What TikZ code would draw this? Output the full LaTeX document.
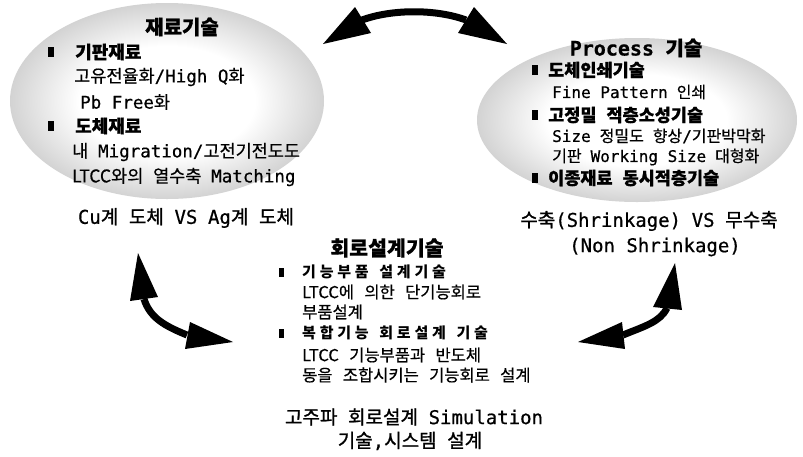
\documentclass[tikz,border=0pt]{standalone}
\usepackage{fontspec}
\setmainfont{Noto Sans CJK KR}
\newfontfamily\kr{Noto Sans CJK KR}[WordSpace=2.5, FakeBold=0.6]
\newfontfamily\krc{Noto Sans CJK KR}[WordSpace=2.5, FakeBold=1.2]
\newfontfamily\krm{Noto Sans CJK KR}[WordSpace=2.8, FakeBold=0.5]
\newfontfamily\krw{Noto Sans CJK KR}[LetterSpace=25, WordSpace=1.5]
\newfontfamily\enf{DejaVu Sans Mono}[FakeBold=0.6]
\newcommand\en[1]{{\enf #1}}
\pgfdeclareradialshading{ellshade}{\pgfpoint{0bp}{0bp}}{color(0bp)=(white); color(14bp)=(white); color(28bp)=(black!22); color(42bp)=(black!45); color(50bp)=(black!55)}
\begin{document}
\begin{tikzpicture}[x=1pt,y=-1pt,
  ttl/.style={font=\kr\bfseries\fontsize{20}{20}\selectfont, inner sep=0pt},
  sub/.style={font=\kr\bfseries\fontsize{18}{18}\selectfont, inner sep=0pt, anchor=west},
  rsub/.style={font=\kr\bfseries\fontsize{17.5}{17.5}\selectfont, inner sep=0pt, anchor=west},
  txt/.style={font=\kr\fontsize{17.5}{17.5}\selectfont, inner sep=0pt, anchor=west},
  rtxt/.style={font=\kr\fontsize{16}{16}\selectfont, inner sep=0pt, anchor=west},
  captxt/.style={font=\krc\fontsize{19}{19}\selectfont, inner sep=0pt},
  msub/.style={font=\krw\bfseries\fontsize{15}{15}\selectfont, inner sep=0pt, anchor=west},
  mtx/.style={font=\krm\fontsize{16.5}{16.5}\selectfont, inner sep=0pt, anchor=west},
  bul/.style={fill=black, inner sep=0pt, minimum width=6pt, minimum height=10pt},
  mbul/.style={fill=black, inner sep=0pt, minimum width=5pt, minimum height=9pt},
  band/.style={line width=7pt},
  head/.style={fill=black}]
\useasboundingbox (0,0) rectangle (803,456);
\fill[white] (0,0) rectangle (803,456);

% ellipses
\shade[shading=ellshade] (167,101) ellipse [x radius=157pt, y radius=98pt];
\shade[shading=ellshade] (637,120) ellipse [x radius=160pt, y radius=82pt];

% left ellipse text
\node[ttl] (t1) at (182,27) {재료기술};
\node[bul] (b1) at (51,52) {};
\node[sub] (s1) at (75,52) {기판재료};
\node[txt] (l1) at (74,77) {고유전율화\en{/High Q}화};
\node[txt] (l2) at (80,102) {\en{Pb Free}화};
\node[bul] (b2) at (51,126) {};
\node[sub] (s2) at (75,126) {도체재료};
\node[txt] (l3) at (72,152) {내 \en{Migration/}고전기전도도};
\node[txt] (l4) at (72,177) {LTCC와의 열수축 \en{Matching}};
\node[captxt] (c1) at (186,218) {\en{Cu}계 도체 \en{VS} \en{Ag}계 도체};

% right ellipse text
\node[ttl] (t2) at (636,48) {\en{Process} 기술};
\node[bul] (b3) at (535,70) {};
\node[rsub] (s3) at (548,70) {도체인쇄기술};
\node[rtxt] (r1) at (552,92) {\en{Fine Pattern} 인쇄};
\node[bul] (b4) at (535,115) {};
\node[rsub] (s4) at (548,115) {고정밀 적층소성기술};
\node[rtxt] (r2) at (552,136) {\en{Size} 정밀도 향상\en{/}기판박막화};
\node[rtxt] (r3) at (552,157) {기판 \en{Working Size} 대형화};
\node[bul] (b5) at (535,178) {};
\node[rsub] (s5) at (548,178) {이종재료 동시적층기술};
\node[captxt] (c2) at (649,221) {수축\en{(Shrinkage)} \en{VS} 무수축};
\node[captxt] (c3) at (655,247) {\en{(Non Shrinkage)}};

% middle text
\node[ttl, font=\kr\bfseries\fontsize{20.5}{20.5}\selectfont] (t3) at (387,248) {회로설계기술};
\node[mbul] (b6) at (281,272) {};
\node[msub] (m1) at (302,272) {기능부품 설계기술};
\node[mtx] (m2) at (302,292) {LTCC에 의한 단기능회로};
\node[mtx] (m3) at (302,312) {부품설계};
\node[mbul] (b7) at (281,333) {};
\node[msub] (m4) at (302,333) {복합기능 회로설계 기술};
\node[mtx] (m5) at (302,355) {LTCC 기능부품과 반도체};
\node[mtx] (m6) at (302,375) {동을 조합시키는 기능회로 설계};
\node[captxt] (c4) at (414,417) {고주파 회로설계 \en{Simulation}};
\node[captxt] (c5) at (410,441) {기술\en{,}시스템 설계};

% top arrow
\coordinate (a1) at (362,20);
\coordinate (a2) at (466,20);
\draw[band] (a1) .. controls (392,9) and (436,9) .. (a2);
\fill[head] (323,44) -- (355,7) -- (371,33) -- cycle;
\fill[head] (507,44) -- (474,7) -- (458,33) -- cycle;

% left bottom arrow
\coordinate (a3) at (144,299);
\coordinate (a4) at (187,335);
\draw[band] (a3) .. controls (150,318) and (165,326) .. (a4);
\fill[head] (138,253) -- (130,301) -- (158,297) -- cycle;
\fill[head] (233,342) -- (190,322) -- (185,349) -- cycle;

% right bottom arrow
\coordinate (a5) at (667,308);
\coordinate (a6) at (623,335);
\draw[band] (a5) .. controls (660,322) and (645,326) .. (a6);
\fill[head] (675,263) -- (653,307) -- (682,310) -- cycle;
\fill[head] (578,342) -- (622,322) -- (625,349) -- cycle;
\end{tikzpicture}
\end{document}
